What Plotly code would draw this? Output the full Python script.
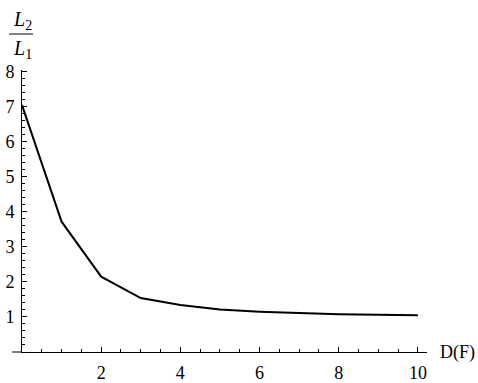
import plotly.graph_objects as go

d_f = [0, 1, 2, 3, 4, 5, 6, 7, 8, 9, 10]
ratio = [7.05, 3.72, 2.15, 1.54, 1.34, 1.21, 1.15, 1.11, 1.08, 1.06, 1.05]
x_ticks = [2, 4, 6, 8, 10]
y_ticks = [1, 2, 3, 4, 5, 6, 7, 8]

FONT = "Liberation Serif, Times New Roman, serif"

fig = go.Figure()
fig.add_trace(go.Scatter(x=d_f, y=ratio, mode="lines",
                         line=dict(color="black", width=2), hoverinfo="skip"))

fig.update_layout(
    width=478, height=383,
    margin=dict(l=22, r=51, t=70, b=31),
    paper_bgcolor="white", plot_bgcolor="white",
    showlegend=False,
    font=dict(family=FONT, size=18, color="black"),
    xaxis=dict(range=[0, 10.23], showgrid=False, zeroline=False, automargin=False,
               showline=True, linecolor="black", linewidth=1,
               tickvals=x_ticks, ticks="inside", ticklen=5, tickcolor="black",
               ticklabelstandoff=4,
               minor=dict(dtick=0.5, tick0=0, ticks="inside", ticklen=3, tickcolor="black"),
               tickfont=dict(family=FONT, size=18)),
    yaxis=dict(range=[0, 8.05], showgrid=False, zeroline=False, automargin=False,
               showline=True, linecolor="black", linewidth=1,
               tickvals=y_ticks, ticks="inside", ticklen=5, tickcolor="black",
               ticklabelstandoff=3,
               minor=dict(dtick=0.2, tick0=0, ticks="inside", ticklen=3, tickcolor="black"),
               tickfont=dict(family=FONT, size=18)),
)

# extension of the x axis to the left of the y axis
fig.add_shape(type="line", xref="paper", yref="paper", x0=-10/405, x1=0, y0=0, y1=0,
              line=dict(color="black", width=1))

# x axis title
fig.add_annotation(text="D(F)", xref="paper", yref="paper", x=1.0, y=0,
                   xanchor="left", yanchor="middle", xshift=11, showarrow=False,
                   font=dict(family=FONT, size=18))

# y axis title as a fraction L2 / L1
fig.add_annotation(text="<i>L</i><sub>2</sub>", xref="paper", yref="paper",
                   x=0, y=1, xshift=0, yshift=50, xanchor="center", yanchor="middle",
                   showarrow=False, font=dict(family=FONT, size=20))
fig.add_annotation(text="<i>L</i><sub>1</sub>", xref="paper", yref="paper",
                   x=0, y=1, xshift=0, yshift=21, xanchor="center", yanchor="middle",
                   showarrow=False, font=dict(family=FONT, size=20))
fig.add_shape(type="line", xref="paper", yref="paper",
              x0=-13/405, x1=11/405, y0=1 + 36/282, y1=1 + 36/282,
              line=dict(color="black", width=1))

fig.write_html("out.html", config={"displayModeBar": False},
               post_script="document.body.style.margin='0';")
